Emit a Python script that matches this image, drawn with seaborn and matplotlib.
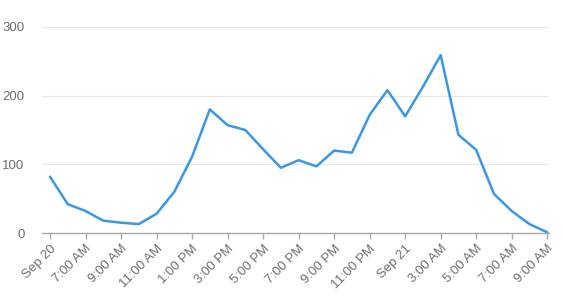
import matplotlib
matplotlib.use("Agg")
import matplotlib.pyplot as plt
import seaborn as sns
import pandas as pd

hours = list(range(29))
values = [82, 42, 32, 18, 15, 13, 28, 60, 111, 180, 157, 150, 122, 95,
          106, 97, 120, 117, 172, 208, 170, 213, 259, 143, 121, 57, 32, 13, 1]
tick_labels = ["Sep 20", "7:00 AM", "9:00 AM", "11:00 AM", "1:00 PM", "3:00 PM",
               "5:00 PM", "7:00 PM", "9:00 PM", "11:00 PM", "Sep 21", "3:00 AM",
               "5:00 AM", "7:00 AM", "9:00 AM"]

df = pd.DataFrame({"hour": hours, "value": values})

sns.set_theme(style="white")
plt.rcParams["font.family"] = ["Liberation Sans", "DejaVu Sans"]

fig = plt.figure(figsize=(5.64, 3.0), dpi=100)
ax = fig.add_axes([42/564, 1-233/300, (549-42)/564, (233-27)/300])

sns.lineplot(data=df, x="hour", y="value", ax=ax, color="#3a97e8", linewidth=1.8)

ax.set_xlim(-0.45, 28.1)
ax.set_ylim(0, 300)
ax.set_yticks([0, 100, 200, 300])
ax.set_xticks(list(range(0, 29, 2)))
ax.set_xticklabels(tick_labels, rotation=45, ha="right", rotation_mode="anchor")
ax.grid(axis="y", color="#e8e8e8", linewidth=0.8)
ax.set_axisbelow(True)
for s in ["left", "right", "top"]:
    ax.spines[s].set_visible(False)
ax.spines["bottom"].set_color("#aaaaaa")
ax.spines["bottom"].set_linewidth(1)
ax.tick_params(axis="x", bottom=True, length=4, width=1, color="#aaaaaa",
               labelsize=9.5, labelcolor="#6e6e6e", pad=3)
ax.tick_params(axis="y", left=False, labelsize=9.5, labelcolor="#6e6e6e", pad=6.5)
ax.set_xlabel("")
ax.set_ylabel("")

fig.savefig("out.png", dpi=100)
